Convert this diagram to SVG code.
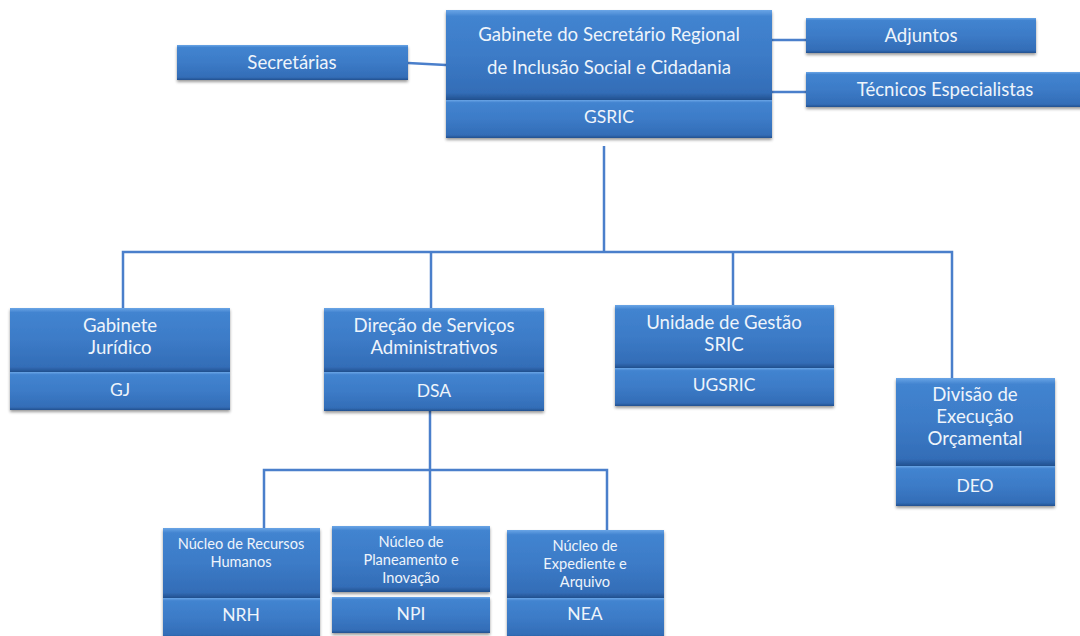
<svg xmlns="http://www.w3.org/2000/svg" width="1080" height="636" viewBox="0 0 1080 636">
<style>
.b{fill:url(#g);filter:url(#sh)}
.t{font-family:Lato,"Open Sans","Liberation Sans",sans-serif;fill:#eef4fb;text-anchor:middle}
.l{font-size:18.6px}
.m{font-size:17.5px}
.s{font-size:14.6px}
.c{stroke:#4a7fcb;stroke-width:2.5;fill:none}
</style>
<defs>
<linearGradient id="g" x1="0" y1="0" x2="0" y2="1">
<stop offset="0" stop-color="#6aa5e6"/>
<stop offset="0.07" stop-color="#4284d0"/>
<stop offset="0.5" stop-color="#3c7bc7"/>
<stop offset="0.92" stop-color="#336db7"/>
<stop offset="1" stop-color="#22508f"/>
</linearGradient>
<filter id="sh" x="-10%" y="-10%" width="120%" height="130%">
<feDropShadow dx="0" dy="2" stdDeviation="1.5" flood-color="#000" flood-opacity="0.4"/>
</filter>
</defs>
<rect width="1080" height="636" fill="#fff"/>
<g id="connectors">
<path class="c" d="M408 63 L446 65"/>
<path class="c" d="M772 40 L806 40"/>
<path class="c" d="M772 92 L806 92"/>
<path class="c" d="M604 146 V252"/>
<path class="c" d="M123 308 V252 H952 V378"/>
<path class="c" d="M431 252 V308"/>
<path class="c" d="M733 252 V305"/>
<path class="c" d="M430 411 V470"/>
<path class="c" d="M264 528 V470 H607 V530"/>
<path class="c" d="M430 470 V526"/>
</g>
<g id="gsric">
<rect class="b" x="446" y="10" width="326" height="90"/>
<rect class="b" x="446" y="100" width="326" height="38"/>
<text class="t l" x="609" y="41">Gabinete do Secretário Regional</text>
<text class="t l" x="609" y="74">de Inclusão Social e Cidadania</text>
<text class="t m" x="609" y="123">GSRIC</text>
</g>
<g id="secretarias">
<rect class="b" x="177" y="45" width="231" height="35"/>
<text class="t l" x="292" y="69">Secretárias</text>
</g>
<g id="adjuntos">
<rect class="b" x="806" y="18" width="230" height="35"/>
<text class="t l" x="921" y="42">Adjuntos</text>
</g>
<g id="tecnicos">
<rect class="b" x="806" y="72" width="280" height="35"/>
<text class="t l" x="945" y="96">Técnicos Especialistas</text>
</g>
<g id="gj">
<rect class="b" x="10" y="308" width="220" height="64"/>
<rect class="b" x="10" y="372" width="220" height="38"/>
<text class="t l" x="120" y="332">Gabinete</text>
<text class="t l" x="120" y="354">Jurídico</text>
<text class="t m" x="120" y="396">GJ</text>
</g>
<g id="dsa">
<rect class="b" x="324" y="308" width="220" height="64"/>
<rect class="b" x="324" y="372" width="220" height="39"/>
<text class="t l" x="434" y="332">Direção de Serviços</text>
<text class="t l" x="434" y="354">Administrativos</text>
<text class="t m" x="434" y="397">DSA</text>
</g>
<g id="ugsric">
<rect class="b" x="615" y="305" width="219" height="63"/>
<rect class="b" x="615" y="368" width="219" height="38"/>
<text class="t l" x="724" y="329">Unidade de Gestão</text>
<text class="t l" x="724" y="351">SRIC</text>
<text class="t m" x="724" y="391">UGSRIC</text>
</g>
<g id="deo">
<rect class="b" x="896" y="378" width="159" height="88"/>
<rect class="b" x="896" y="466" width="159" height="40"/>
<text class="t l" x="975" y="401">Divisão de</text>
<text class="t l" x="975" y="423">Execução</text>
<text class="t l" x="975" y="445">Orçamental</text>
<text class="t m" x="975" y="492">DEO</text>
</g>
<g id="nrh">
<rect class="b" x="163" y="528" width="157" height="70"/>
<rect class="b" x="163" y="598" width="157" height="40"/>
<text class="t s" x="241" y="549">Núcleo de Recursos</text>
<text class="t s" x="241" y="567">Humanos</text>
<text class="t m" x="241" y="621">NRH</text>
</g>
<g id="npi">
<rect class="b" x="332" y="526" width="158" height="66"/>
<rect class="b" x="332" y="597" width="158" height="36"/>
<text class="t s" x="411" y="547">Núcleo de</text>
<text class="t s" x="411" y="565">Planeamento e</text>
<text class="t s" x="411" y="583">Inovação</text>
<text class="t m" x="411" y="620">NPI</text>
</g>
<g id="nea">
<rect class="b" x="507" y="530" width="157" height="68"/>
<rect class="b" x="507" y="598" width="157" height="40"/>
<text class="t s" x="585" y="551">Núcleo de</text>
<text class="t s" x="585" y="569">Expediente e</text>
<text class="t s" x="585" y="587">Arquivo</text>
<text class="t m" x="585" y="620">NEA</text>
</g>
</svg>
